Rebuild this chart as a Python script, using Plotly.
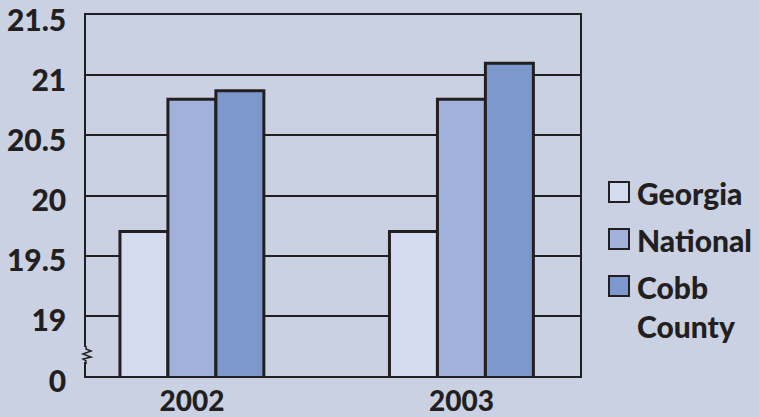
import plotly.graph_objects as go

years = ["2002", "2003"]
series_names = ["Georgia", "National", "Cobb County"]
legend_labels = ["Georgia", "National", "Cobb<br>County"]
georgia = [19.7, 19.7]
national = [20.8, 20.8]
cobb = [20.87, 21.1]
tick_vals = [18.5, 19, 19.5, 20, 20.5, 21, 21.5]
tick_text = ["0", "19", "19.5", "20", "20.5", "21", "21.5"]

values = [georgia, national, cobb]
colors = ["#d5dbf0", "#a0b2dc", "#7c98cc"]
BG = "#c9d1e3"
INK = "#231f20"
FONT = dict(family="Lato", size=30, color=INK, weight=900)
XFONT = dict(family="Lato", size=28, color=INK, weight=900)

W, H = 759, 417
L, R, T, B = 86, 580, 15, 376


def px(x):
    return (x - L) / (R - L)


def py(y):
    return (B - y) / (B - T)


fig = go.Figure()
for name, vals, col in zip(series_names, values, colors):
    fig.add_trace(go.Bar(
        x=years, y=vals, name=name, base=0,
        marker=dict(color=col, line=dict(color=INK, width=3)),
        showlegend=False,
    ))

shapes = []
annotations = []
# manual legend
leg_y = [192, 239, 286]
for lab, col, cy in zip(legend_labels, colors, leg_y):
    shapes.append(dict(type="rect", xref="paper", yref="paper",
                       x0=px(609), x1=px(629), y0=py(cy - 10), y1=py(cy + 10),
                       fillcolor=col, line=dict(color=INK, width=2)))
    annotations.append(dict(xref="paper", yref="paper", x=px(635), y=py(cy - 19.5),
                            text=lab, showarrow=False, xanchor="left", yanchor="top",
                            align="left", font=FONT))

# axis break
shapes.append(dict(type="rect", xref="paper", yref="paper",
                   x0=px(84), x1=px(88), y0=py(362), y1=py(347),
                   fillcolor=BG, line=dict(width=0), layer="above"))
zig = [(86, 346), (86, 349), (91, 351), (83, 354), (91, 357), (83, 359), (86, 361), (86, 364)]
path = "M " + " L ".join(f"{px(a):.5f},{py(b):.5f}" for a, b in zig)
shapes.append(dict(type="path", xref="paper", yref="paper", path=path,
                   line=dict(color=INK, width=1.5), layer="above"))

fig.update_layout(
    width=W, height=H,
    margin=dict(l=L, r=W - R, t=T, b=H - B, autoexpand=False),
    paper_bgcolor=BG, plot_bgcolor=BG,
    barmode="group", bargap=0.466, bargroupgap=0,
    font=FONT,
    shapes=shapes, annotations=annotations,
    showlegend=False,
)
fig.update_xaxes(
    type="category", range=[-0.393, 1.44], automargin=False,
    showline=True, mirror=True, linecolor=INK, linewidth=1.5,
    showgrid=False, ticks="", ticklabelstandoff=0, ticklabeloverflow="allow",
    tickfont=XFONT,
)
fig.update_yaxes(
    range=[18.5, 21.5], tickvals=tick_vals, ticktext=tick_text, automargin=False,
    showline=True, mirror=True, linecolor=INK, linewidth=1.5,
    showgrid=True, gridcolor=INK, gridwidth=1.5, ticklabeloverflow="allow",
    ticks="", ticklabelstandoff=12, ticklabelshift=5, tickfont=FONT, zeroline=False,
)

fig.write_html("out.html")
